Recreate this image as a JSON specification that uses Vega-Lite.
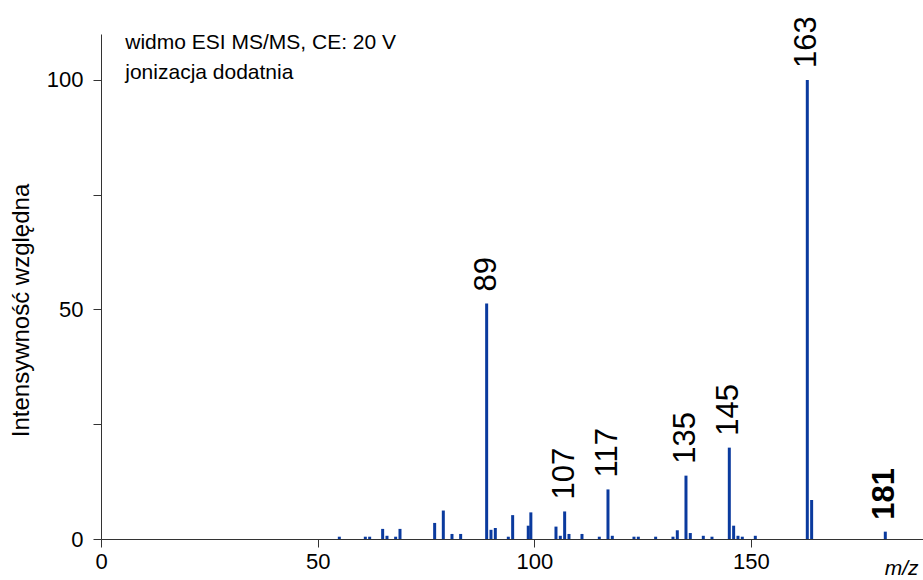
{
  "$schema": "https://vega.github.io/schema/vega-lite/v6.json",
  "autosize": {"type": "none"},
  "padding": {"left": 101, "top": 34, "right": 0, "bottom": 41},
  "width": 822,
  "height": 505,
  "background": "white",
  "config": {
    "view": {"stroke": null},
    "font": "Liberation Sans",
    "axis": {"grid": false, "domainColor": "#333333", "tickColor": "#333333", "labelColor": "#000000", "titleColor": "#000000", "labelFont": "Liberation Sans", "titleFont": "Liberation Sans", "titleFontWeight": "normal"}
  },
  "datasets": {
    "spectrum": [
      {"mz": 55, "intensity": 0.5},
      {"mz": 61, "intensity": 0.5},
      {"mz": 62, "intensity": 0.5},
      {"mz": 65, "intensity": 2.2},
      {"mz": 66, "intensity": 0.7},
      {"mz": 68, "intensity": 0.5},
      {"mz": 69, "intensity": 2.2},
      {"mz": 77, "intensity": 3.5},
      {"mz": 79, "intensity": 6.2},
      {"mz": 81, "intensity": 1.1},
      {"mz": 83, "intensity": 1.1},
      {"mz": 89, "intensity": 51.3, "label": "89"},
      {"mz": 90, "intensity": 2.0},
      {"mz": 91, "intensity": 2.4},
      {"mz": 94, "intensity": 0.5},
      {"mz": 95, "intensity": 5.2},
      {"mz": 98.6, "intensity": 2.9},
      {"mz": 99.2, "intensity": 5.8},
      {"mz": 105, "intensity": 2.7},
      {"mz": 106, "intensity": 0.7},
      {"mz": 107, "intensity": 6.0, "label": "107"},
      {"mz": 108, "intensity": 1.1},
      {"mz": 111, "intensity": 1.1},
      {"mz": 115, "intensity": 0.5},
      {"mz": 117, "intensity": 10.8, "label": "117"},
      {"mz": 118, "intensity": 0.7},
      {"mz": 123, "intensity": 0.5},
      {"mz": 124, "intensity": 0.5},
      {"mz": 128, "intensity": 0.5},
      {"mz": 132, "intensity": 0.5},
      {"mz": 133, "intensity": 1.9},
      {"mz": 135, "intensity": 13.8, "label": "135"},
      {"mz": 136, "intensity": 1.3},
      {"mz": 139, "intensity": 0.7},
      {"mz": 141, "intensity": 0.5},
      {"mz": 145, "intensity": 19.9, "label": "145"},
      {"mz": 146, "intensity": 2.9},
      {"mz": 147, "intensity": 0.7},
      {"mz": 148, "intensity": 0.5},
      {"mz": 151, "intensity": 0.7},
      {"mz": 163, "intensity": 100, "label": "163"},
      {"mz": 164, "intensity": 8.5},
      {"mz": 181, "intensity": 1.6, "label": "181"}
    ],
    "note": [
      {"mz": 5.6, "intensity": 106.7, "line1": "widmo ESI MS/MS, CE: 20 V", "line2": "jonizacja dodatnia"}
    ]
  },
  "layer": [
    {
      "data": {"name": "spectrum"},
      "mark": {"type": "rule", "strokeWidth": 3, "color": "#0a3a9e", "strokeCap": "butt"},
      "encoding": {
        "x": {
          "field": "mz", "type": "quantitative",
          "scale": {"domain": [0, 189.7], "nice": false, "zero": true},
          "axis": {
            "values": [0, 50, 100, 150],
            "tickSize": 8, "labelPadding": 4, "labelFontSize": 22, "labelFlush": false,
            "title": "m/z", "titleFontSize": 21, "titleFontStyle": "italic",
            "titleAnchor": "end", "titleAlign": "right", "titleBaseline": "alphabetic",
            "titleX": 817, "titleY": 35
          }
        },
        "y": {
          "field": "intensity", "type": "quantitative",
          "scale": {"domain": [0, 110], "nice": false},
          "axis": {
            "values": [0, 25, 50, 75, 100],
            "labelExpr": "datum.value % 50 === 0 ? datum.label : ''",
            "tickSize": 8, "labelPadding": 10, "labelFontSize": 22,
            "title": "Intensywność względna", "titleFontSize": 24,
            "titleY": 276, "titleX": -68, "titleAlign": "center"
          }
        },
        "y2": {"datum": 0}
      }
    },
    {
      "data": {"name": "spectrum"},
      "transform": [{"filter": "isValid(datum.label) && datum.mz != 181"}],
      "mark": {"type": "text", "angle": 270, "align": "left", "baseline": "middle", "dx": 12, "fontSize": 31, "font": "Liberation Sans", "color": "#000000"},
      "encoding": {
        "x": {"field": "mz", "type": "quantitative"},
        "y": {"field": "intensity", "type": "quantitative"},
        "text": {"field": "label"}
      }
    },
    {
      "data": {"name": "spectrum"},
      "transform": [{"filter": "datum.mz == 181"}],
      "mark": {"type": "text", "angle": 270, "align": "left", "baseline": "middle", "dx": 12, "fontSize": 31, "fontWeight": "bold", "font": "Liberation Sans", "color": "#000000"},
      "encoding": {
        "x": {"field": "mz", "type": "quantitative"},
        "y": {"field": "intensity", "type": "quantitative"},
        "text": {"field": "label"}
      }
    },
    {
      "data": {"name": "note"},
      "mark": {"type": "text", "align": "left", "baseline": "alphabetic", "fontSize": 21, "font": "Liberation Sans", "color": "#000000"},
      "encoding": {
        "x": {"field": "mz", "type": "quantitative"},
        "y": {"field": "intensity", "type": "quantitative"},
        "text": {"field": "line1"}
      }
    },
    {
      "data": {"name": "note"},
      "mark": {"type": "text", "align": "left", "baseline": "alphabetic", "dy": 30, "fontSize": 21, "font": "Liberation Sans", "color": "#000000"},
      "encoding": {
        "x": {"field": "mz", "type": "quantitative"},
        "y": {"field": "intensity", "type": "quantitative"},
        "text": {"field": "line2"}
      }
    }
  ]
}
